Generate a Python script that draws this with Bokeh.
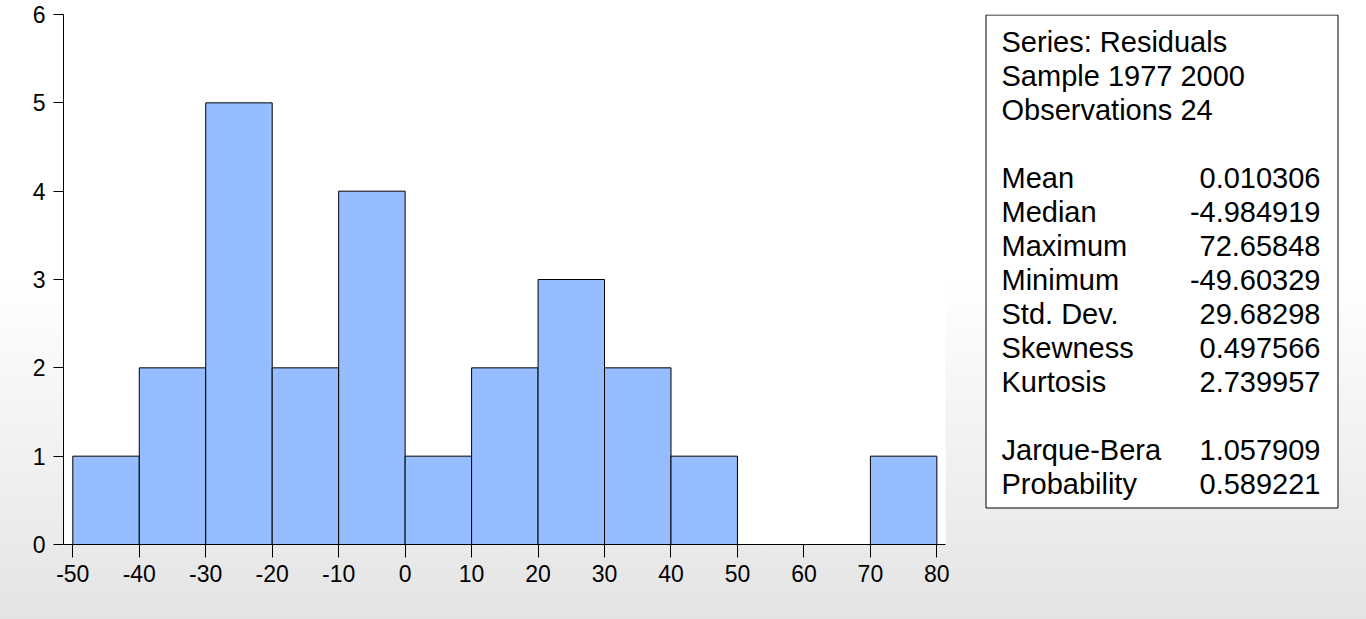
from bokeh.plotting import figure
from bokeh.layouts import row
from bokeh.models import Range1d, FixedTicker, GlobalInlineStyleSheet
from bokeh.core.properties import value
from bokeh.embed import file_html
from bokeh.resources import INLINE

# ---- data ----
bin_left = [-50, -40, -30, -20, -10, 0, 10, 20, 30, 40, 50, 60, 70]
bin_right = [-40, -30, -20, -10, 0, 10, 20, 30, 40, 50, 60, 70, 80]
counts = [1, 2, 5, 2, 4, 1, 2, 3, 2, 1, 0, 0, 1]

x_ticks = [-50, -40, -30, -20, -10, 0, 10, 20, 30, 40, 50, 60, 70, 80]
x_tick_labels = ["-50", "-40", "-30", "-20", "-10", "0", "10", "20", "30", "40", "50", "60", "70", "80"]
y_ticks = [0, 1, 2, 3, 4, 5, 6]
y_tick_labels = ["0", "1", "2", "3", "4", "5", "6"]

header_lines = ["Series: Residuals", "Sample 1977 2000", "Observations 24"]
stat_names = ["Mean", "Median", "Maximum", "Minimum", "Std. Dev.", "Skewness", "Kurtosis"]
stat_values = ["0.010306", "-4.984919", "72.65848", "-49.60329", "29.68298", "0.497566", "2.739957"]
test_names = ["Jarque-Bera", "Probability"]
test_values = ["1.057909", "0.589221"]

FONT = value("Liberation Sans")

bg_css = GlobalInlineStyleSheet(css="""
html { background: linear-gradient(to bottom, #ffffff 0px, #ffffff 272px, #e4e4e4 619px) fixed; min-height: 100%; }
body { background: transparent; }
""")

TOP, BOTTOM_BORDER, FRAME_H = 14, 75, 530
W1 = 975

# ---- histogram figure ----
p = figure(width=W1, height=619, output_backend="svg", toolbar_location=None,
           x_range=Range1d(-51.4, 81.3), y_range=Range1d(0, 6),
           min_border_left=63, min_border_right=W1 - 63 - 882,
           min_border_top=TOP, min_border_bottom=BOTTOM_BORDER)
p.stylesheets = [bg_css]
p.border_fill_alpha = 0
p.background_fill_color = "white"
p.outline_line_color = None
p.grid.visible = False

p.quad(left=bin_left, right=bin_right, bottom=0, top=counts,
       fill_color="#96bdff", line_color="black", line_width=1)

for ax in (p.xaxis[0], p.yaxis[0]):
    ax.axis_line_color = "black"
    ax.major_tick_line_color = "black"
    ax.minor_tick_line_color = None
    ax.major_tick_in = 0
    ax.major_label_text_font = "Liberation Sans"
    ax.major_label_text_font_size = "23px"
    ax.major_label_text_color = "black"

p.xaxis.ticker = FixedTicker(ticks=x_ticks)
p.xaxis.major_label_overrides = {t: s for t, s in zip(x_ticks, x_tick_labels)}
p.xaxis.major_tick_out = 13
p.xaxis.major_label_standoff = 7

p.yaxis.ticker = FixedTicker(ticks=y_ticks)
p.yaxis.major_label_overrides = {t: s for t, s in zip(y_ticks, y_tick_labels)}
p.yaxis.major_tick_out = 10
p.yaxis.major_label_standoff = 8

# ---- statistics panel (coordinates in page pixels) ----
W2 = 1366 - W1
p2 = figure(width=W2, height=619, output_backend="svg", toolbar_location=None,
            x_range=Range1d(W1, 1366), y_range=Range1d(TOP + FRAME_H, TOP),
            min_border_left=0, min_border_right=0,
            min_border_top=TOP, min_border_bottom=BOTTOM_BORDER)
p2.axis.visible = False
p2.grid.visible = False
p2.outline_line_color = None
p2.border_fill_alpha = 0
p2.background_fill_alpha = 0

box_left, box_right, box_top, box_bottom = 985.5, 1337.5, 14.5, 507.5
p2.quad(left=[box_left], right=[box_right], top=[box_top], bottom=[box_bottom],
        fill_color="white", line_color="black", line_width=1)

base0, step = 41, 34
label_x, value_x = 1001, 1320

h_y = [base0 + i * step for i in range(len(header_lines))]
s_y = [base0 + (4 + i) * step for i in range(len(stat_names))]
t_y = [base0 + (12 + i) * step for i in range(len(test_names))]

common = dict(text_font=FONT, text_font_size="29px", text_color="black", text_baseline="alphabetic")
p2.text(x=[label_x] * len(header_lines), y=h_y, text=header_lines, text_align="left", **common)
p2.text(x=[label_x] * len(stat_names), y=s_y, text=stat_names, text_align="left", **common)
p2.text(x=[value_x] * len(stat_values), y=s_y, text=stat_values, text_align="right", **common)
p2.text(x=[label_x] * len(test_names), y=t_y, text=test_names, text_align="left", **common)
p2.text(x=[value_x] * len(test_values), y=t_y, text=test_values, text_align="right", **common)

layout = row(p, p2)
open("out.html", "w").write(file_html(layout, INLINE))
